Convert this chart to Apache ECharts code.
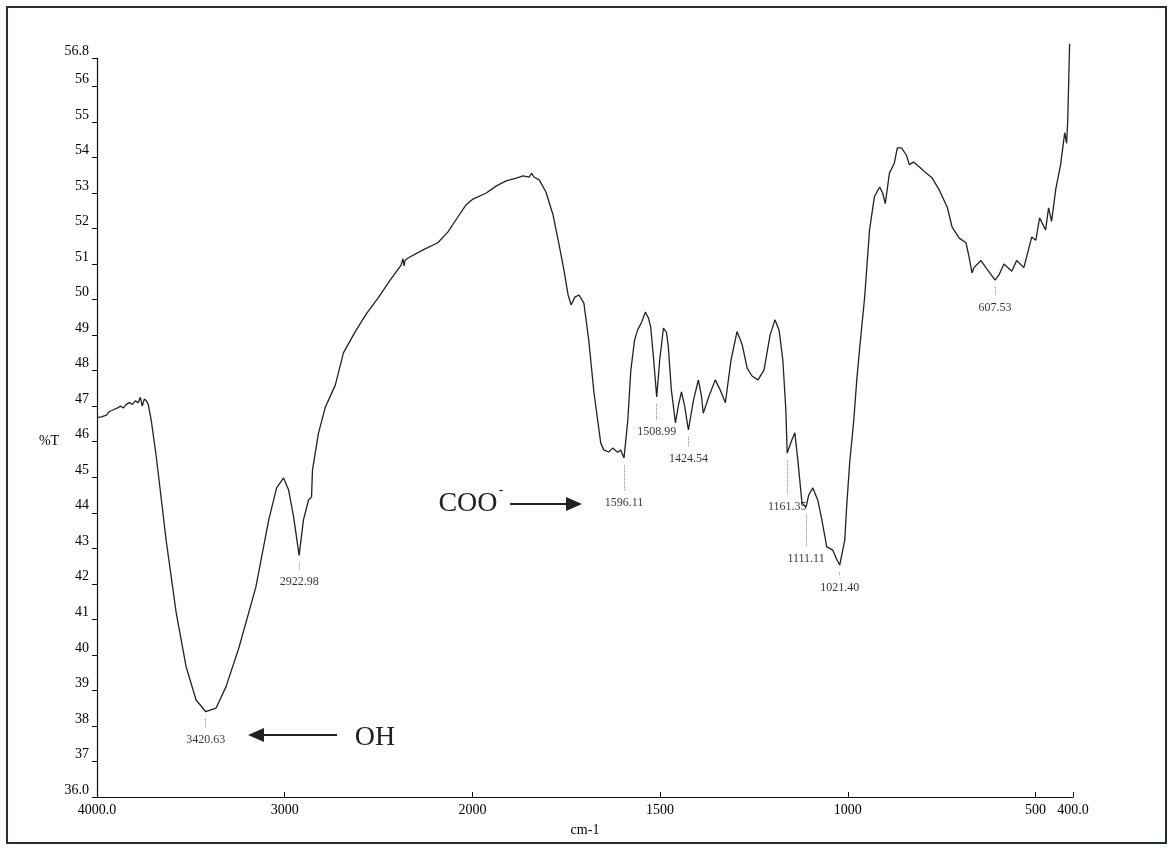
<!DOCTYPE html>
<html>
<head>
<meta charset="utf-8">
<script src="https://cdn.jsdelivr.net/npm/echarts@6/dist/echarts.min.js"></script>
<style>
html,body{margin:0;padding:0;background:#fff;}
#chart{width:1168px;height:848px;}
</style>
</head>
<body>
<div id="chart"></div>
<script>
// ---- data ----
const wavenumber = [
4000,3976,3950,3934,3912,3891,3875,3859,3844,3828,3812,3796,3780,3769,3759,3748,3737,3727,3711,
3684,3631,3578,3525,3472,3420.63,3366,3313,3244,3154,3085,3043,3006,2979,2953,2923,2900,2873,2857,2852,
2820,2783,2730,2687,2624,2565,2502,2438,2380,2370,2364,2359,2343,2263,2184,2131,2088,2035,2000,
1963,1936,1910,1883,1865,1849,1842,1836,1822,1804,1785,1769,1756,1745,1737,1727,1716,1703,1690,1676,
1658,1650,1637,1626,1613,1605,1596.11,1586,1578,1568,1560,1549,1539,1531,1525,1517,1508.99,1501,1491,
1483,1478,1470,1459,1451,1443,1435,1424.54,1411,1398,1390,1385,1369,1353,1340,1326,1311,1295,1281,
1268,1255,1239,1223,1207,1194,1183,1173,1165,1161.35,1149,1141,1133,1122,1111.11,1104,1093,1080,1069,
1056,1040,1030,1021.40,1008,1003,995,984,976,968,955,942,929,915,907,900,889,876,868,857,844,836,825,
809,791,775,756,735,722,703,685,677,669,664,645,632,607.53,597,584,563,550,531,510,499,489,473,465,
457,446,433,422,417,414,411,409
];
const transmittance = [
46.68,46.70,46.75,46.85,46.90,46.95,47.00,46.95,47.05,47.10,47.05,47.15,47.10,47.25,47.00,47.20,47.15,47.05,46.60,
45.57,43.20,41.18,39.66,38.73,38.40,38.50,39.10,40.20,41.90,43.80,44.70,44.98,44.64,43.90,42.80,43.80,44.36,44.44,45.20,
46.24,46.98,47.60,48.50,49.10,49.60,50.05,50.55,50.97,51.15,50.95,51.10,51.17,51.40,51.60,51.90,52.24,52.66,52.82,
53.00,53.20,53.34,53.42,53.48,53.45,53.55,53.45,53.37,53.03,52.38,51.54,50.83,50.13,49.85,50.07,50.13,49.90,48.86,47.37,
45.96,45.77,45.71,45.82,45.70,45.77,45.54,46.60,48.00,48.86,49.14,49.37,49.65,49.48,49.23,48.30,47.26,48.30,49.20,
49.08,48.67,47.46,46.53,47.03,47.40,47.03,46.33,47.17,47.74,47.30,46.80,47.30,47.74,47.46,47.10,48.30,49.10,48.72,
48.07,47.85,47.74,48.02,49.00,49.43,49.14,48.30,46.90,45.68,46.05,46.25,45.48,44.27,44.16,44.50,44.70,44.36,43.80,
43.04,42.95,42.70,42.53,43.23,44.16,45.40,46.60,47.74,48.67,50.07,51.96,52.90,53.17,53.00,52.70,53.56,53.84,54.27,54.27,54.07,53.80,53.87,
53.73,53.56,53.42,53.08,52.60,52.04,51.73,51.60,51.20,50.75,50.90,51.10,50.90,50.55,50.70,51.00,50.80,51.10,50.90,51.76,51.67,52.30,51.96,52.58,
52.20,53.10,53.80,54.70,54.40,55.05,55.00,57.20
];

// labelled absorption peaks
const peakWn = [3420.63, 2922.98, 1596.11, 1508.99, 1424.54, 1161.35, 1111.11, 1021.40, 607.53];
const peakT = [38.40, 42.80, 45.54, 47.26, 46.33, 45.68, 44.16, 42.53, 50.55];
const peakLabelT = [37.60, 42.05, 44.27, 46.27, 45.51, 44.16, 42.70, 41.88, 49.76];

// axis ticks
const xTickValues = [4000, 3000, 2000, 1500, 1000, 500, 400];
const xTickLabels = ['4000.0', '3000', '2000', '1500', '1000', '500', '400.0'];
const yTickValues = [36,37,38,39,40,41,42,43,44,45,46,47,48,49,50,51,52,53,54,55,56,56.8];
const yTickLabels = ['36.0','37','38','39','40','41','42','43','44','45','46','47','48','49','50','51','52','53','54','55','56','56.8'];

// ---- the instrument's abscissa is half scale above 2000 cm-1 ----
const toU = w => (w > 2000 ? 2000 + (w - 2000) / 2 : w);

const FONT = '"Liberation Serif", "Times New Roman", serif';
const chart = echarts.init(document.getElementById('chart'), null, {renderer: 'canvas'});

const lineData = wavenumber.map((w, i) => [toU(w), transmittance[i]]);
const xTickU = xTickValues.map(toU);

const option = {
  backgroundColor: '#ffffff',
  animation: false,
  grid: {left: 97, right: 95, top: 58, bottom: 51, containLabel: false},
  xAxis: {
    type: 'value', min: 400, max: 3000, inverse: true,
    name: 'cm-1', nameLocation: 'middle', nameGap: 26,
    nameTextStyle: {fontFamily: FONT, fontSize: 14, color: '#000'},
    axisLine: {show: true, onZero: false, lineStyle: {color: '#111', width: 1.2}},
    axisTick: {show: true, inside: true, length: 5, customValues: xTickU, lineStyle: {color: '#111'}},
    axisLabel: {
      customValues: xTickU, margin: 6, fontFamily: FONT, fontSize: 14, color: '#000',
      formatter: v => { const i = xTickU.findIndex(t => Math.abs(t - v) < 1e-6); return i >= 0 ? xTickLabels[i] : ''; }
    },
    splitLine: {show: false}
  },
  yAxis: {
    type: 'value', min: 36, max: 56.8,
    axisLine: {show: true, onZero: false, lineStyle: {color: '#111', width: 1.2}},
    axisTick: {show: true, inside: false, length: 5, customValues: yTickValues, lineStyle: {color: '#111'}},
    axisLabel: {
      customValues: yTickValues, margin: 8, fontFamily: FONT, fontSize: 14, color: '#000',
      verticalAlign: 'bottom',
      formatter: v => { const i = yTickValues.findIndex(t => Math.abs(t - v) < 1e-6); return i >= 0 ? yTickLabels[i] : ''; }
    },
    splitLine: {show: false}
  },
  series: [
    {
      type: 'line', data: lineData, showSymbol: false, clip: false, silent: true,
      lineStyle: {color: '#222', width: 1.3},
      markLine: {
        silent: true, symbol: ['none', 'none'], animation: false,
        lineStyle: {type: 'dotted', color: '#888', width: 1},
        label: {show: false},
        data: peakWn.map((w, i) => [
          {coord: [toU(w), peakT[i] - 0.2]},
          {coord: [toU(w), peakLabelT[i] + 0.35]}
        ])
      }
    },
    {
      type: 'scatter', silent: true, symbolSize: 1,
      itemStyle: {color: 'rgba(0,0,0,0)'},
      data: peakWn.map((w, i) => [toU(w), peakLabelT[i]]),
      label: {
        show: true, position: 'inside', fontFamily: FONT, fontSize: 12, color: '#000',
        formatter: p => peakWn[p.dataIndex].toFixed(2)
      }
    }
  ],
  graphic: [
    {type: 'rect', shape: {x: 7, y: 7, width: 1159, height: 836}, style: {fill: 'none', stroke: '#223328', lineWidth: 2}, silent: true},
    {type: 'text', x: 49, y: 441, style: {text: '%T', font: '14px ' + FONT, fill: '#000', textAlign: 'center', textVerticalAlign: 'middle'}},
    {type: 'text', x: 468, y: 504, style: {text: 'COO', font: '28px ' + FONT, fill: '#222', textAlign: 'center', textVerticalAlign: 'middle'}},
    {type: 'text', x: 501, y: 490, style: {text: '-', font: '14px ' + FONT, fill: '#222', textAlign: 'center', textVerticalAlign: 'middle'}},
    {type: 'line', shape: {x1: 510, y1: 504, x2: 568, y2: 504}, style: {stroke: '#222', lineWidth: 1.8}},
    {type: 'polygon', shape: {points: [[582, 504], [566, 497], [566, 511]]}, style: {fill: '#222'}},
    {type: 'text', x: 375, y: 738, style: {text: 'OH', font: '28px ' + FONT, fill: '#222', textAlign: 'center', textVerticalAlign: 'middle'}},
    {type: 'line', shape: {x1: 262, y1: 735, x2: 337, y2: 735}, style: {stroke: '#222', lineWidth: 1.8}},
    {type: 'polygon', shape: {points: [[248, 735], [264, 728], [264, 742]]}, style: {fill: '#222'}}
  ]
};
chart.setOption(option);
</script>
</body>
</html>
